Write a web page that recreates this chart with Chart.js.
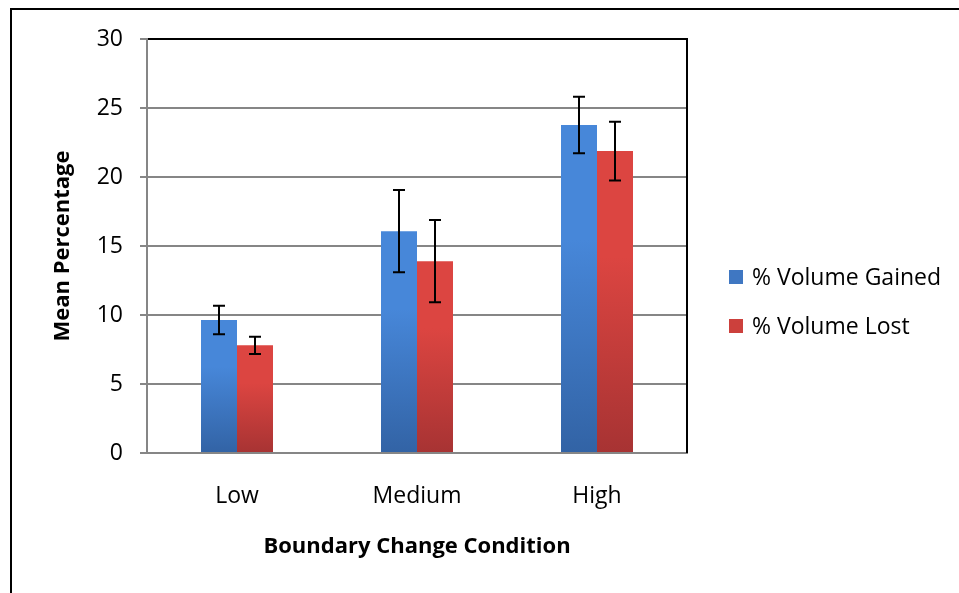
<!DOCTYPE html>
<html>
<head>
<meta charset="utf-8">
<script src="https://cdn.jsdelivr.net/npm/chart.js@4/dist/chart.umd.min.js"></script>
<style>
  html, body { margin: 0; padding: 0; background: #fff; overflow: hidden; }
  #wrap { position: relative; width: 959px; height: 593px; }
  #frame { position: absolute; left: 10px; top: 8px; width: 960px; height: 600px;
           border-left: 2px solid #000; border-top: 2px solid #000; }
  canvas { position: absolute; left: 0; top: 0; }
</style>
</head>
<body>
<div id="wrap">
  <div id="frame"></div>
  <canvas id="myChart" width="959" height="593"></canvas>
</div>
<script>
// chart data
let categories = ['Low', 'Medium', 'High'];
let seriesNames = ['% Volume Gained', '% Volume Lost'];
let gainedMeans = [9.64, 16.07, 23.77];
let gainedErrors = [1.03, 2.98, 2.05];
let lostMeans = [7.8, 13.9, 21.88];
let lostErrors = [0.62, 2.98, 2.13];
let yTicks = [0, 5, 10, 15, 20, 25, 30];

const FONT = "'Open Sans', sans-serif";

// light at the top of each bar, dark at the bottom
function barGradient(light, dark) {
    return function (context) {
        const chart = context.chart;
        if (!chart.chartArea || context.type !== 'data') return dark;
        const y = chart.scales.y;
        const top = y.getPixelForValue(context.raw);
        const bottom = y.getPixelForValue(0);
        const g = chart.ctx.createLinearGradient(0, top, 0, bottom);
        g.addColorStop(0, light);
        g.addColorStop(0.35, light);
        g.addColorStop(1, dark);
        return g;
    };
}

//draws the error bars of each dataset
const errorBars = {
    id: 'errorBars',
    afterDatasetsDraw(chart) {
        const ctx = chart.ctx;
        const y = chart.scales.y;
        ctx.save();
        ctx.strokeStyle = '#000';
        ctx.lineWidth = 2;
        chart.data.datasets.forEach((ds, i) => {
            chart.getDatasetMeta(i).data.forEach((bar, j) => {
                const hi = y.getPixelForValue(ds.data[j] + ds.errors[j]);
                const lo = y.getPixelForValue(ds.data[j] - ds.errors[j]);
                ctx.beginPath();
                ctx.moveTo(bar.x, hi); ctx.lineTo(bar.x, lo);
                ctx.moveTo(bar.x - 6, hi); ctx.lineTo(bar.x + 6, hi);
                ctx.moveTo(bar.x - 6, lo); ctx.lineTo(bar.x + 6, lo);
                ctx.stroke();
            });
        });
        ctx.restore();
    }
};

//right border of the plot area + legend on the right
const frameAndLegend = {
    id: 'frameAndLegend',
    afterDraw(chart) {
        const ctx = chart.ctx;
        const a = chart.chartArea;
        ctx.save();
        ctx.strokeStyle = '#000';
        ctx.lineWidth = 2;
        ctx.beginPath();
        ctx.moveTo(a.right, a.top - 1);
        ctx.lineTo(a.right, a.bottom);
        ctx.stroke();

        ctx.font = '23px ' + FONT;
        ctx.textBaseline = 'middle';
        chart.data.datasets.forEach((ds, i) => {
            const cy = 277 + i * 49;
            ctx.fillStyle = ds.legendColor;
            ctx.fillRect(729, cy - 7, 14, 14);
            ctx.fillStyle = '#000';
            ctx.fillText(ds.label, 752, cy + 1);
        });
        ctx.restore();
    }
};

const chart = document.getElementById('myChart').getContext('2d');
const myChart = new Chart(chart, {
    type: 'bar',
    data: {
        labels: categories,
        datasets: [{
            label: seriesNames[0],
            data: gainedMeans,
            errors: gainedErrors,
            legendColor: '#3f77c2',
            backgroundColor: barGradient('#4787d9', '#3263a5')
        }, {
            label: seriesNames[1],
            data: lostMeans,
            errors: lostErrors,
            legendColor: '#cc403c',
            backgroundColor: barGradient('#dc4541', '#a73333')
        }]
    },
    plugins: [errorBars, frameAndLegend],
    options: {
        responsive: false,
        animation: false,
        categoryPercentage: 0.4,
        barPercentage: 1.0,
        layout: { padding: { left: 46, top: 39, right: 272, bottom: 29 } },
        plugins: {
            legend: { display: false },
            tooltip: { enabled: false }
        },
        scales: {
            x: {
                grid: { display: false },
                border: { color: '#868686', width: 2 },
                ticks: { color: '#000', font: { family: FONT, size: 23 }, padding: 22 },
                title: {
                    display: true,
                    text: 'Boundary Change Condition',
                    color: '#000',
                    font: { family: FONT, size: 22, weight: 'bold' },
                    padding: { top: 4, bottom: 4 }
                },
                afterFit(scale) { scale.height = 111; }
            },
            y: {
                min: 0,
                max: 30,
                afterBuildTicks(scale) { scale.ticks = yTicks.map(v => ({ value: v })); },
                grid: {
                    color: c => (c.tick && c.tick.value === 30 ? '#000' : '#868686'),
                    tickColor: '#868686',
                    lineWidth: 2,
                    tickLength: 7
                },
                border: { color: '#868686', width: 2 },
                ticks: { color: '#000', font: { family: FONT, size: 23 }, padding: 17 },
                title: {
                    display: true,
                    text: 'Mean Percentage',
                    color: '#000',
                    font: { family: FONT, size: 22, weight: 'bold' },
                    padding: { top: 4, bottom: 4 }
                },
                afterFit(scale) { scale.width = 101; }
            }
        }
    }
});
</script>
</body>
</html>
